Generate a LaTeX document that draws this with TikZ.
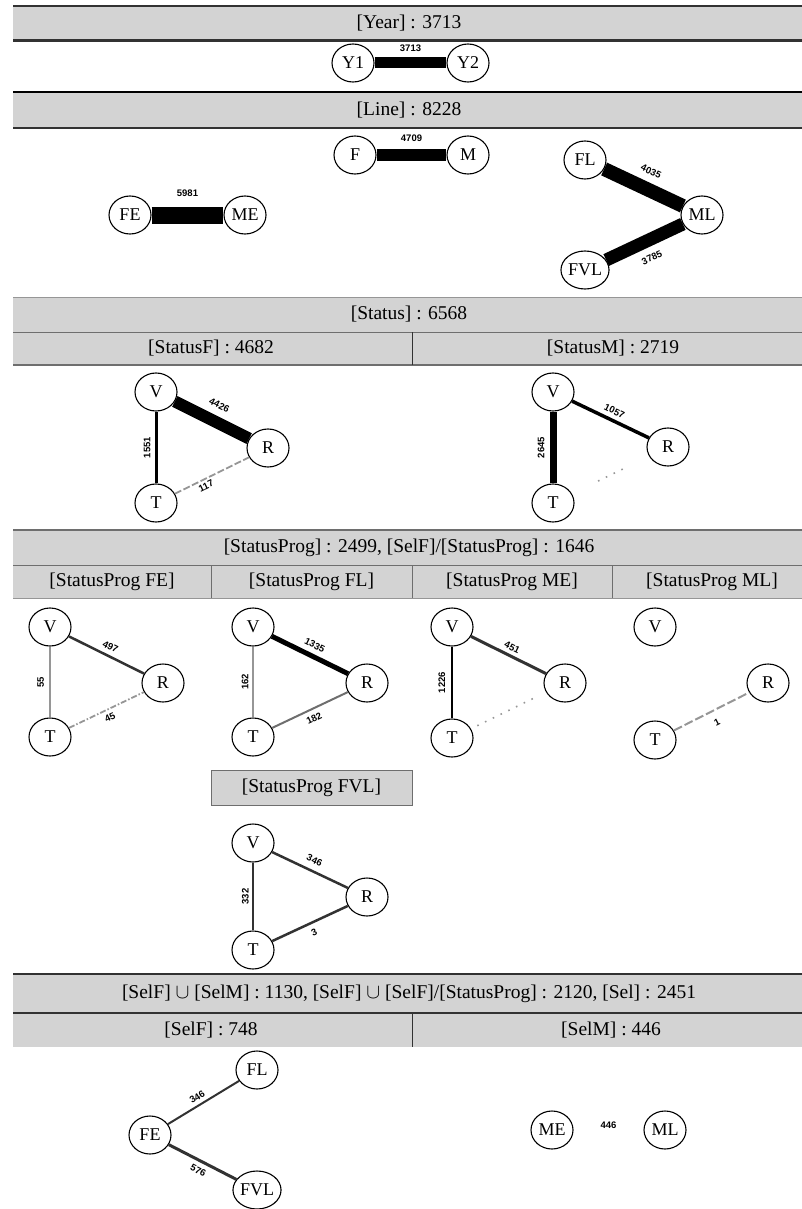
\documentclass[tikz,border=0pt]{standalone}
\usepackage{fontspec}
\setmainfont{Liberation Serif}
\newfontfamily\lblfont{Liberation Sans}
\usetikzlibrary{shapes.geometric}
\definecolor{hdrgray}{RGB}{211,211,211}
\definecolor{ltgray}{RGB}{150,150,150}
\definecolor{mdgray}{RGB}{110,110,110}
\definecolor{dkgray}{RGB}{50,50,50}
\begin{document}
\begin{tikzpicture}[x=1pt,y=-1pt,
  vtx/.style={ellipse, draw=black, line width=1.1pt, fill=white, minimum width=42pt, minimum height=38pt, inner sep=0pt, font=\fontsize{18}{18}\selectfont},
  htxt/.style={font=\fontsize{19.5}{20}\selectfont, inner sep=0pt},
  elab/.style={font=\lblfont\bfseries\fontsize{9.5}{9.5}\selectfont, inner sep=1pt, sloped},
  band/.style={fill=hdrgray},
  rule/.style={line width=#1},
  dashedge/.style={dash pattern=on 7pt off 2.5pt},
  sparse/.style={dash pattern=on 1.6pt off 7pt, line width=1.6pt, ltgray},
]
\useasboundingbox (0,0) rectangle (802,1209);
% ---------- header bands ----------
\fill[band] (13,6) rectangle (802,40);
\draw[rule=2pt, dkgray] (13,6) -- (802,6);
\draw[rule=2.5pt, dkgray] (13,40.5) -- (802,40.5);
\fill[band] (13,92) rectangle (802,128);
\draw[rule=2pt, black] (13,92) -- (802,92);
\draw[rule=2.5pt, dkgray] (13,128) -- (802,128);
\fill[band] (13,297) rectangle (802,365);
\draw[rule=1pt, ltgray] (13,297) -- (802,297);
\draw[rule=1pt, mdgray] (13,332) -- (802,332);
\draw[rule=1.6pt, mdgray] (13,365) -- (802,365);
\draw[rule=1pt, dkgray] (412,332) -- (412,365);
\fill[band] (13,530) rectangle (802,598);
\draw[rule=1.2pt, mdgray] (13,530) -- (802,530);
\draw[rule=1pt, mdgray] (13,565) -- (802,565);
\draw[rule=0.8pt, ltgray] (13,598) -- (802,598);
\foreach \x in {211,412,612} \draw[rule=1pt, mdgray] (\x,565) -- (\x,598);
\fill[band, draw=mdgray, line width=1pt] (211,770) rectangle (412,805);
\fill[band] (13,974) rectangle (802,1047);
\draw[rule=1.6pt, dkgray] (13,974) -- (802,974);
\draw[rule=1.2pt, dkgray] (13,1013) -- (802,1013);
\draw[rule=1pt, dkgray] (412,1013) -- (412,1047);
% ---------- header texts ----------
\node[htxt] (hYear) at (409,23) {[Year] : 3713};
\node[htxt] (hLine) at (409,110) {[Line] : 8228};
\node[htxt] (hStatus) at (409,314.5) {[Status] : 6568};
\node[htxt] (hStatusF) at (211,348.5) {[StatusF] : 4682};
\node[htxt] (hStatusM) at (613,348.5) {[StatusM] : 2719};
\node[htxt] (hProg) at (409,547.5) {[StatusProg] : 2499, [SelF]/[StatusProg] : 1646};
\node[htxt] (hpFE) at (112,581.5) {[StatusProg FE]};
\node[htxt] (hpFL) at (311.5,581.5) {[StatusProg FL]};
\node[htxt] (hpME) at (512,581.5) {[StatusProg ME]};
\node[htxt] (hpML) at (712,581.5) {[StatusProg ML]};
\node[htxt] (hpFVL) at (311.5,787.5) {[StatusProg FVL]};
\node[htxt] (hSel) at (409,993.5) {[SelF] $\cup$ [SelM] : 1130, [SelF] $\cup$ [SelF]/[StatusProg] : 2120, [Sel] : 2451};
\node[htxt] (hSelF) at (211,1030) {[SelF] : 748};
\node[htxt] (hSelM) at (611,1030) {[SelM] : 446};
% ---------- Year ----------
\node[vtx] (Y1) at (353,63) {Y1};
\node[vtx] (Y2) at (468,63) {Y2};
\draw[line width=11pt] (Y1) -- node[elab, above=5pt] {3713} (Y2);
% ---------- Line ----------
\node[vtx] (F) at (355,155) {F};
\node[vtx] (M) at (468,155) {M};
\node[vtx] (FE) at (130,215) {FE};
\node[vtx] (ME) at (245,215) {ME};
\node[vtx] (FL) at (585,160) {FL};
\node[vtx] (ML) at (702,215) {ML};
\node[vtx] (FVL) at (585,270) {FVL};
\draw[line width=12pt] (F) -- node[elab, above=6pt] {4709} (M);
\draw[line width=17pt] (FE) -- node[elab, above=8.5pt] {5981} (ME);
\draw[line width=14pt] (FL) -- node[elab, above=6.5pt] {4035} (ML);
\draw[line width=13pt] (FVL) -- node[elab, below=6.5pt] {3785} (ML);
% ---------- Status F ----------
\node[vtx] (sfV) at (156,392) {V};
\node[vtx] (sfR) at (268,448) {R};
\node[vtx] (sfT) at (156,503) {T};
\draw[line width=12pt] (sfV) -- node[elab, above=6pt] {4426} (sfR);
\draw[line width=3pt] (sfT) -- node[elab, above=3pt] {1551} (sfV);
\draw[line width=1.8pt, ltgray, dashedge] (sfT) -- node[elab, black, below=1.5pt, pos=0.38] {117} (sfR);
% ---------- Status M ----------
\node[vtx] (smV) at (553,392) {V};
\node[vtx] (smR) at (668,447) {R};
\node[vtx] (smT) at (553,503) {T};
\draw[line width=3.5pt] (smV) -- node[elab, above=3pt] {1057} (smR);
\draw[line width=7pt] (smT) -- node[elab, above=4pt] {2645} (smV);
\draw[sparse, shorten >=23pt, shorten <=29pt] (smT) -- (smR);
% ---------- StatusProg FE ----------
\node[vtx] (aV) at (50,627) {V};
\node[vtx] (aR) at (163,683) {R};
\node[vtx] (aT) at (50,737) {T};
\draw[line width=2.5pt, dkgray] (aV) -- node[elab, black, above=3.5pt] {497} (aR);
\draw[line width=2pt, ltgray] (aT) -- node[elab, black, above=4pt] {55} (aV);
\draw[line width=1.8pt, ltgray, dash pattern=on 6pt off 2pt on 1.5pt off 2pt] (aT) -- node[elab, black, below=3pt] {45} (aR);
% ---------- StatusProg FL ----------
\node[vtx] (bV) at (253,627) {V};
\node[vtx] (bR) at (367,683) {R};
\node[vtx] (bT) at (253,737) {T};
\draw[line width=5pt] (bV) -- node[elab, above=4pt] {1335} (bR);
\draw[line width=2pt, ltgray] (bT) -- node[elab, black, above=2.5pt] {162} (bV);
\draw[line width=2pt, mdgray] (bT) -- node[elab, black, below=4pt] {182} (bR);
% ---------- StatusProg ME ----------
\node[vtx] (cV) at (452,627) {V};
\node[vtx] (cR) at (565,683) {R};
\node[vtx] (cT) at (452,738) {T};
\draw[line width=3pt, dkgray] (cV) -- node[elab, black, above=2.5pt] {451} (cR);
\draw[line width=2.5pt] (cT) -- node[elab, above=4.5pt] {1226} (cV);
\draw[sparse, shorten >=8pt, shorten <=7pt] (cT) -- (cR);
% ---------- StatusProg ML ----------
\node[vtx] (dV) at (655,627) {V};
\node[vtx] (dR) at (768,683) {R};
\node[vtx] (dT) at (655,740) {T};
\draw[line width=2pt, ltgray, dash pattern=on 9pt off 3pt] (dT) -- node[elab, black, below=7pt] {1} (dR);
% ---------- StatusProg FVL ----------
\node[vtx] (eV) at (253,843) {V};
\node[vtx] (eR) at (367,897) {R};
\node[vtx] (eT) at (253,950) {T};
\draw[line width=2.5pt, dkgray] (eV) -- node[elab, black, above=5pt] {346} (eR);
\draw[line width=2.5pt, dkgray] (eT) -- node[elab, black, above=2pt] {332} (eV);
\draw[line width=2.5pt, dkgray] (eT) -- node[elab, black, below=4pt] {3} (eR);
% ---------- SelF ----------
\node[vtx] (gFL) at (257,1070) {FL};
\node[vtx] (gFE) at (150,1135) {FE};
\node[vtx] (gFVL) at (257,1190) {FVL};
\draw[line width=2pt, dkgray] (gFE) -- node[elab, black, above=2.5pt, pos=0.47] {346} (gFL);
\draw[line width=3pt, dkgray] (gFE) -- node[elab, black, below=3.5pt] {576} (gFVL);
% ---------- SelM ----------
\node[vtx] (hME) at (552,1130) {ME};
\node[vtx] (hML) at (665,1130) {ML};
\path (hME) -- node[elab, above=0pt] {446} (hML);
\end{tikzpicture}
\end{document}
